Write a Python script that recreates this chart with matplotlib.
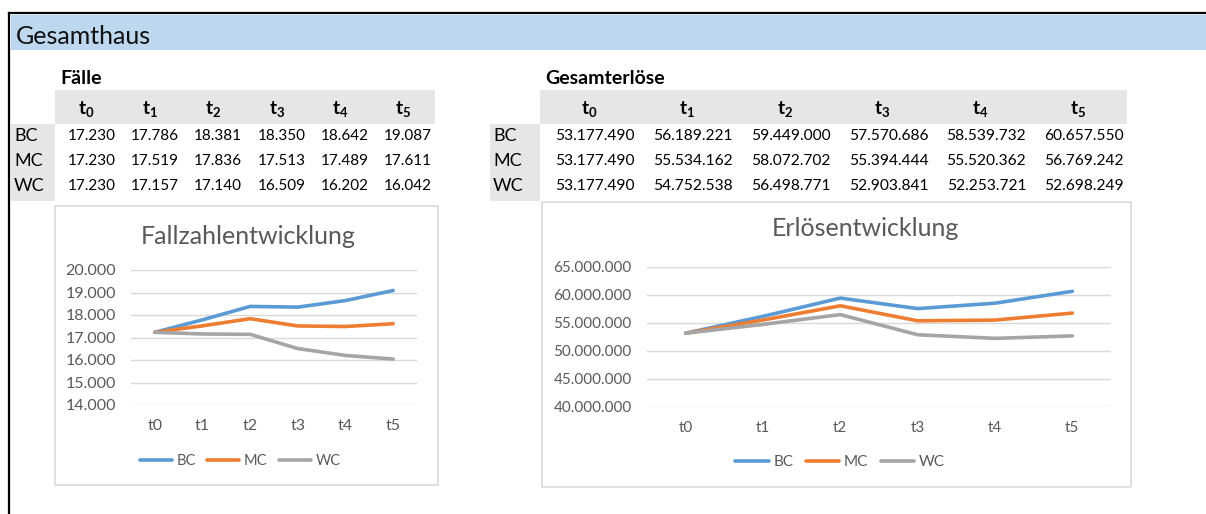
import matplotlib.pyplot as plt
from matplotlib.patches import Rectangle

plt.rcParams["font.family"] = ["Lato", "DejaVu Sans"]
plt.rcParams["mathtext.fontset"] = "custom"
plt.rcParams["mathtext.rm"] = "Lato"
plt.rcParams["mathtext.bf"] = "Lato:bold"

perioden = ["t0", "t1", "t2", "t3", "t4", "t5"]
szenarien = ["BC", "MC", "WC"]

faelle_bc = [17230, 17786, 18381, 18350, 18642, 19087]
faelle_mc = [17230, 17519, 17836, 17513, 17489, 17611]
faelle_wc = [17230, 17157, 17140, 16509, 16202, 16042]

erloese_bc = [53177490, 56189221, 59449000, 57570686, 58539732, 60657550]
erloese_mc = [53177490, 55534162, 58072702, 55394444, 55520362, 56769242]
erloese_wc = [53177490, 54752538, 56498771, 52903841, 52253721, 52698249]

farben = ["#5B9BD5", "#ED7D31", "#A5A5A5"]
W, H = 1206, 514


def de(v):
    return f"{v:,}".replace(",", ".")


fig = plt.figure(figsize=(W / 100, H / 100), dpi=100)
base = fig.add_axes([0, 0, 1, 1])
base.set_xlim(0, W)
base.set_ylim(H, 0)
base.axis("off")

# Rahmen und Kopfzeile
base.plot([9, W], [13, 13], color="black", lw=1.6)
base.plot([9, 9], [13, H], color="black", lw=1.6)
base.add_patch(Rectangle((11, 15), W - 11, 35, color="#BDD7EE", lw=0))
base.text(16, 37, "Gesamthaus", fontsize=18, va="center", color="#111111")


def tabelle(titel, x0, x1, lab_x0, werte, fs):
    ncol = len(perioden)
    cw = (x1 - x0) / ncol
    base.add_patch(Rectangle((x0, 90), x1 - x0, 34, color="#E6E6E6", lw=0))
    base.add_patch(Rectangle((lab_x0, 124), x0 - lab_x0, 77, color="#E6E6E6", lw=0))
    base.text(x0 + 5, 78, titel, fontsize=14, fontweight="bold", va="center")
    for i in range(ncol):
        cx = x0 + cw * (i + 0.5)
        base.text(cx, 110, r"$\mathbf{t}_{\mathbf{%d}}$" % i, fontsize=13.5,
                  ha="center", va="center")
    for r, (name, reihe) in enumerate(zip(szenarien, werte)):
        y = 136 + r * 25
        base.text(lab_x0 + 3, y, name, fontsize=13, va="center")
        for i, v in enumerate(reihe):
            base.text(x0 + cw * (i + 1) - 3, y, de(v), fontsize=fs,
                      ha="right", va="center")


tabelle("Fälle", 55, 435, 11, [faelle_bc, faelle_mc, faelle_wc], 11)
tabelle("Gesamterlöse", 540, 1127, 490, [erloese_bc, erloese_mc, erloese_wc], 11.2)


def diagramm(box, plot, titel, titel_xy, reihen, ylim, step, legend_xy, fs, lfs):
    bx0, by0, bx1, by1 = box
    base.add_patch(Rectangle((bx0, by0), bx1 - bx0, by1 - by0, facecolor="white",
                             edgecolor="#D9D9D9", lw=1.2))
    px0, py0, px1, py1 = plot
    ax = fig.add_axes([px0 / W, 1 - py1 / H, (px1 - px0) / W, (py1 - py0) / H])
    ax.patch.set_visible(False)
    x = range(len(perioden))
    for name, reihe, c in zip(szenarien, reihen, farben):
        ax.plot(x, reihe, color=c, lw=2.6, label=name, clip_on=False,
                solid_capstyle="round")
    ax.set_xlim(-0.5, len(perioden) - 0.5)
    ax.set_ylim(*ylim)
    ticks = list(range(ylim[0], ylim[1] + 1, step))
    ax.set_yticks(ticks)
    ax.set_yticklabels([de(t) for t in ticks])
    ax.set_xticks(list(x))
    ax.set_xticklabels(perioden)
    ax.grid(axis="y", color="#D9D9D9", lw=1)
    ax.set_axisbelow(True)
    for s in ax.spines.values():
        s.set_visible(False)
    ax.tick_params(length=0, labelsize=fs, colors="#595959")
    ax.tick_params(axis="y", pad=11)
    ax.tick_params(axis="x", pad=10)
    base.text(titel_xy[0], titel_xy[1], titel, fontsize=18, color="#595959",
              ha="center", va="center")
    ax.legend(loc="center", bbox_to_anchor=(legend_xy[0] / W, 1 - legend_xy[1] / H),
              bbox_transform=fig.transFigure, ncol=3, frameon=False, fontsize=lfs,
              handlelength=2.2, handletextpad=0.3, columnspacing=0.8,
              labelcolor="#595959")
    return ax


diagramm((55, 206, 438, 485), (131, 270, 417, 405), "Fallzahlentwicklung", (248, 237),
         [faelle_bc, faelle_mc, faelle_wc], (14000, 20000), 1000, (240, 461), 11.5, 10.5)
diagramm((542, 202, 1131, 487), (647, 267, 1111, 407), "Erlösentwicklung", (865, 228),
         [erloese_bc, erloese_mc, erloese_wc], (40000000, 65000000), 5000000,
         (840, 462), 11, 11)

fig.savefig("out.png", dpi=100)
